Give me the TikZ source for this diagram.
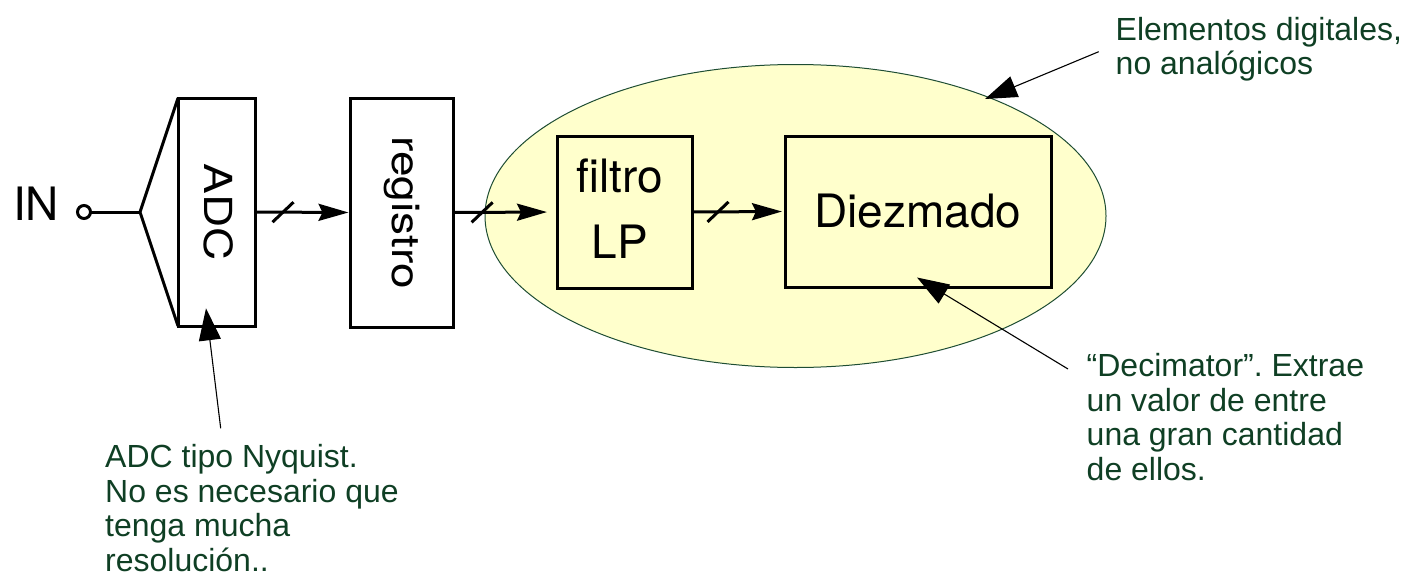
\documentclass[tikz,border=0pt]{standalone}
\usepackage{fontspec}
\usepackage{graphicx}
\setmainfont{Liberation Sans}
\newfontfamily\blockfont{TeX Gyre Heros}
\usetikzlibrary{arrows.meta,shapes.geometric}
\definecolor{notegreen}{HTML}{0F3F24}
\definecolor{zonefill}{HTML}{FFFFCC}
\definecolor{zoneline}{HTML}{1E4D33}
\tikzset{
  block/.style={draw, line width=3pt, inner sep=0pt, outer sep=0pt},
  blocktext/.style={font=\blockfont\fontsize{46}{66}\selectfont, inner sep=0pt},
  sig/.style={line width=3pt, -{Stealth[length=30pt,width=17pt,inset=4pt]}},
  wire/.style={line width=3pt},
  busmark/.style={line width=3pt},
  note/.style={font=\fontsize{32}{34.5}\selectfont\frenchspacing, text=notegreen, align=left, inner sep=0pt},
  pointer/.style={line width=1.1pt, -{Triangle[length=32pt,width=22pt]}},
}
\begin{document}
\begin{tikzpicture}[x=1pt,y=-1pt]
\useasboundingbox (0,0) rectangle (1420,578);

% digital part of the chain
\node[ellipse, draw=zoneline, fill=zonefill, line width=1pt,
      minimum width=621pt, minimum height=303pt, inner sep=0pt] (zone) at (795.5,216) {};

% analog input
\node[blocktext, anchor=base] (inlabel) at (36,220) {IN};
\node[circle, draw, line width=3pt, minimum size=13pt, inner sep=0pt, outer sep=0pt] (term) at (84,212) {};
\coordinate (split) at (140,212);

% blocks
\node[block, minimum width=77pt, minimum height=228pt] (adc) at (216.5,212) {};
\node[blocktext, rotate=-90] (adctxt) at ([xshift=2.5pt]adc.center) {\scalebox{1}[0.84]{ADC}};
\node[block, minimum width=103pt, minimum height=229pt] (reg) at (401.5,212.5) {};
\node[blocktext, rotate=-90] (regtxt) at (reg.center) {\scalebox{1}[0.84]{registro}};
\node[block, minimum width=135pt, minimum height=152pt] (filt) at (624.5,212) {};
\node[blocktext, align=center] (filttxt) at (620,208.5) {filtro\\LP};
\node[block, blocktext, minimum width=266pt, minimum height=151pt] (dec) at (918,211.5) {Diezmado};

% signal path
\draw[wire] (term.east) -- (split);
\draw[wire, line join=miter] (adc.north west) -- (split) -- (adc.south west);
\draw[sig, shorten >=1.5pt] (adc.east) -- coordinate[pos=0.295] (b1) (reg.west);
\draw[sig, shorten >=10pt] (reg.east) -- coordinate[pos=0.28] (b2) (filt.west);
\draw[sig, shorten >=3pt] (filt.east) -- coordinate[pos=0.28] (b3) (dec.west);
\foreach \b in {b1,b2,b3}
  \draw[busmark] ([shift={(-10.5,10)}]\b) -- ([shift={(10.5,-10)}]\b);

% notes
\node[note, anchor=north west] (n1) at (1115.5,17) {Elementos digitales,\\no analógicos};
\node[note, anchor=north west] (n2) at (1086.5,353.5) {“Decimator”. Extrae\\un valor de entre\\una gran cantidad\\de ellos.};
\node[note, anchor=north west] (n3) at (105,444.5) {ADC tipo Nyquist.\\No es necesario que\\tenga mucha\\resolución..};

\coordinate (p1) at (1098.7,51.7);
\coordinate (t1) at (985,99);
\coordinate (p2) at (1068,369);
\coordinate (t2) at (917,277.5);
\coordinate (p3) at (220.7,428.3);
\coordinate (t3) at (206,308.3);
\draw[pointer] (p1) -- (t1);
\draw[pointer] (p2) -- (t2);
\draw[pointer] (p3) -- (t3);
\end{tikzpicture}
\end{document}
